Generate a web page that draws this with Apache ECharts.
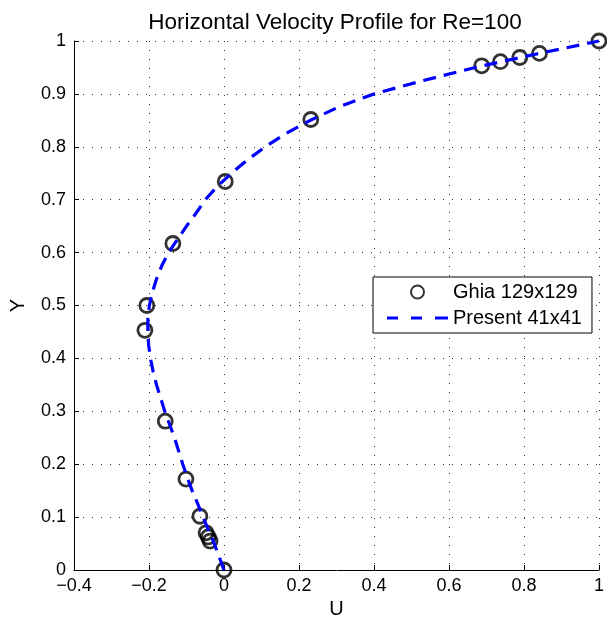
<!DOCTYPE html>
<html>
<head>
<meta charset="utf-8">
<script src="https://cdn.jsdelivr.net/npm/echarts@6/dist/echarts.min.js"></script>
<style>
  html, body { margin: 0; padding: 0; background: #fff; }
  #chart { width: 607px; height: 630px; }
</style>
</head>
<body>
<div id="chart"></div>
<script>
// Ghia et al. 129x129 reference points (u, y)
const ghiaY = [1.0, 0.9766, 0.9688, 0.9609, 0.9531, 0.8516, 0.7344, 0.6172, 0.5, 0.4531, 0.2813, 0.1719, 0.1016, 0.0703, 0.0625, 0.0547, 0.0];
const ghiaU = [1.0, 0.8412, 0.7887, 0.7372, 0.6872, 0.2315, 0.0033, -0.1364, -0.2058, -0.2109, -0.1566, -0.1015, -0.0643, -0.0478, -0.0419, -0.0372, 0.0];

// present solution, 41x41 grid
const presentY = [0, 0.025, 0.05, 0.075, 0.1, 0.125, 0.15, 0.175, 0.2, 0.225, 0.25, 0.275, 0.3, 0.325, 0.35, 0.375, 0.4, 0.425, 0.45, 0.475, 0.5,
  0.525, 0.55, 0.575, 0.6, 0.625, 0.65, 0.675, 0.7, 0.725, 0.75, 0.775, 0.8, 0.825, 0.85, 0.875, 0.9, 0.925, 0.95, 0.975, 1.0];
const presentU = [0, -0.013, -0.026, -0.041, -0.056, -0.07, -0.085, -0.098, -0.11, -0.121, -0.132, -0.145, -0.158, -0.169, -0.18, -0.189, -0.196, -0.201, -0.203, -0.203, -0.199,
  -0.191, -0.18, -0.166, -0.148, -0.124, -0.1, -0.074, -0.05, -0.018, 0.02, 0.062, 0.11, 0.165, 0.23, 0.305, 0.4, 0.53, 0.67, 0.83, 1.0];

const xTicks = [-0.4, -0.2, 0, 0.2, 0.4, 0.6, 0.8, 1];
const yTicks = [0, 0.1, 0.2, 0.3, 0.4, 0.5, 0.6, 0.7, 0.8, 0.9, 1];

const FONT = '"Liberation Sans", Arial, sans-serif';

// legend icon: three short dashes
const DASH_ICON = 'path://M0,0h11v3h-11z M24,0h11v3h-11z M48,0h13v3h-13z';

function fmt(v) {
  const s = String(+v.toFixed(1));
  return s.replace('-', '\u2212');
}

const chart = echarts.init(document.getElementById('chart'), null, { renderer: 'canvas' });

const gridLine = {
  show: true,
  lineStyle: { color: '#333', width: 1, type: [1, 8] }
};

const option = {
  animation: false,
  backgroundColor: '#fff',
  textStyle: { fontFamily: FONT, color: '#000' },
  title: {
    text: 'Horizontal Velocity Profile for Re=100',
    left: 330,
    textAlign: 'center',
    top: 6,
    textStyle: { fontFamily: FONT, fontSize: 22.5, fontWeight: 'normal', color: '#000' }
  },
  grid: { left: 74, right: 5, top: 41, bottom: 60 },
  legend: {
    orient: 'vertical',
    left: 373,
    top: 277,
    padding: [5, 10, 5, 14],
    itemWidth: 61,
    itemHeight: 13,
    itemGap: 6,
    backgroundColor: '#fff',
    borderColor: '#000',
    borderWidth: 1,
    borderRadius: 0,
    textStyle: { fontFamily: FONT, fontSize: 20, color: '#000' },
    data: [
      { name: 'Ghia 129x129' },
      { name: 'Present 41x41', icon: DASH_ICON, itemStyle: { color: '#0000ff', borderWidth: 0 } }
    ]
  },
  xAxis: {
    type: 'value',
    min: xTicks[0],
    max: xTicks[xTicks.length - 1],
    interval: 0.2,
    name: 'U',
    nameLocation: 'middle',
    nameGap: 20,
    nameTextStyle: { fontFamily: FONT, fontSize: 20, color: '#000' },
    axisLine: { show: true, onZero: false, lineStyle: { color: '#000', width: 1 } },
    axisTick: { show: true, inside: true, length: 5, lineStyle: { color: '#000' } },
    axisLabel: { fontFamily: FONT, fontSize: 18, color: '#000', margin: 7, formatter: fmt, showMaxLabel: true, showMinLabel: true },
    splitLine: gridLine
  },
  yAxis: {
    type: 'value',
    min: yTicks[0],
    max: yTicks[yTicks.length - 1],
    interval: 0.1,
    name: 'Y',
    nameLocation: 'middle',
    nameGap: 46,
    nameRotate: 90,
    nameTextStyle: { fontFamily: FONT, fontSize: 20, color: '#000' },
    axisLine: { show: true, onZero: false, lineStyle: { color: '#000', width: 1 } },
    axisTick: { show: true, inside: true, length: 5, lineStyle: { color: '#000' } },
    axisLabel: { fontFamily: FONT, fontSize: 18, color: '#000', margin: 8, formatter: fmt },
    splitLine: gridLine
  },
  series: [
    {
      name: 'Ghia 129x129',
      type: 'scatter',
      symbol: 'circle',
      symbolSize: 14,
      clip: false,
      itemStyle: { color: 'rgba(0,0,0,0)', borderColor: '#000', borderWidth: 2.8 },
      data: ghiaU.map((u, i) => [u, ghiaY[i]])
    },
    {
      name: 'Present 41x41',
      type: 'line',
      showSymbol: false,
      symbol: 'none',
      clip: false,
      lineStyle: { color: '#0000ff', width: 3.2, type: [13, 8] },
      itemStyle: { color: '#0000ff' },
      data: presentU.map((u, i) => [u, presentY[i]])
    }
  ]
};

chart.setOption(option);
</script>
</body>
</html>
